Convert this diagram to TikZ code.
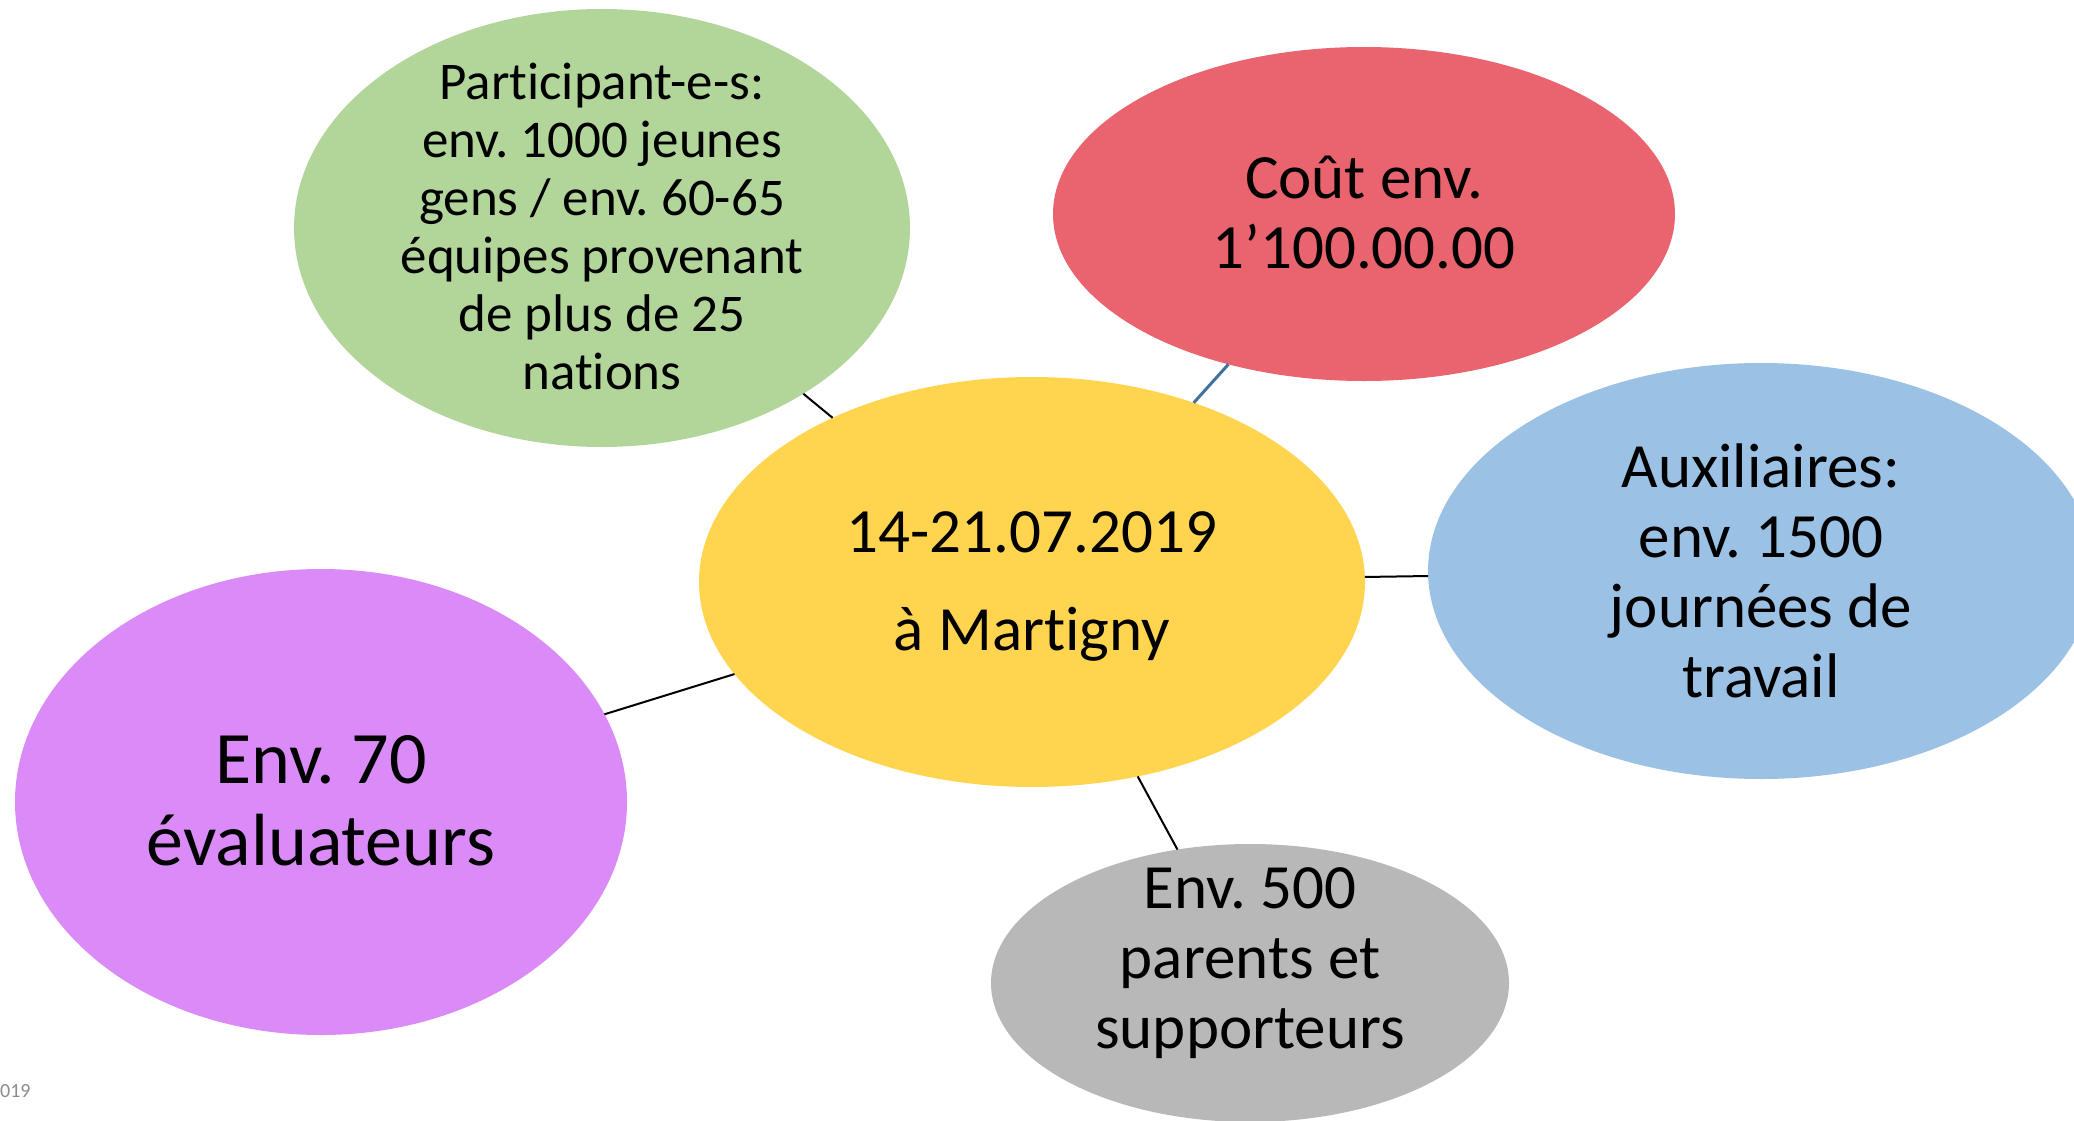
\documentclass[tikz,border=0pt]{standalone}
\usepackage{fontspec}
\setmainfont{Carlito}[Ligatures=NoCommon]
\frenchspacing
\usetikzlibrary{shapes.geometric}
\definecolor{cyellow}{HTML}{FFD44F}
\definecolor{cgreen}{HTML}{B2D69A}
\definecolor{cred}{HTML}{E9646E}
\definecolor{cblue}{HTML}{9BC1E4}
\definecolor{cpurple}{HTML}{DB8BF7}
\definecolor{cgray}{HTML}{B8B8B8}
\definecolor{clink}{HTML}{41719C}
\definecolor{cfoot}{HTML}{8C8C8C}
\begin{document}
\begin{tikzpicture}[x=1pt,y=-1pt,
  bubble/.style={ellipse, draw=none, inner sep=0pt, outer sep=0pt},
  label text/.style={align=center, inner sep=0pt, text=black},
  link/.style={draw=black, line width=2pt},
  bluelink/.style={draw=clink, line width=3pt}]
\useasboundingbox (0,0) rectangle (2074,1121);
% bubbles
\node[bubble, fill=cgreen, minimum width=616pt, minimum height=438pt] (green) at (602,228) {};
\node[bubble, fill=cred, minimum width=622pt, minimum height=334pt] (red) at (1364,214) {};
\node[bubble, fill=cblue, minimum width=666pt, minimum height=416pt] (blue) at (1761,571) {};
\node[bubble, fill=cpurple, minimum width=612pt, minimum height=466pt] (purple) at (321,802) {};
\node[bubble, fill=cgray, minimum width=518pt, minimum height=278pt] (gray) at (1250,983) {};
\node[bubble, fill=cyellow, minimum width=666pt, minimum height=410pt] (yellow) at (1032,582) {};
% texts
\node[label text, font=\fontsize{53}{58}\selectfont] (greentext) at (602,226)
  {Participant-e-s:\\env. 1000 jeunes\\gens / env. 60-65\\équipes provenant\\de plus de 25\\nations};
\node[label text, font=\fontsize{63}{70}\selectfont] (redtext) at (1364,212)
  {Coût env.\\1’100.00.00};
\node[label text, font=\fontsize{63}{70}\selectfont] (bluetext) at (1761,571)
  {Auxiliaires:\\env. 1500\\journées de\\travail};
\node[label text, font=\fontsize{74}{82}\selectfont] (purpletext) at (321,801)
  {Env. 70\\évaluateurs};
\node[label text, font=\fontsize{63}{70}\selectfont] (graytext) at (1250,963)
  {Env. 500\\parents et\\supporteurs};
\node[label text, font=\fontsize{63}{70}\selectfont] (yellowtext) at (1032,586)
  {14-21.07.2019\\[28pt]à Martigny};
\node[anchor=west, inner sep=0pt, text=cfoot, font=\fontsize{20}{24}\selectfont] (foot) at (0,1091) {019};
% connectors
\draw[link] (yellow) -- (green);
\draw[bluelink] (yellow) -- (red);
\draw[link] (yellow) -- (blue);
\draw[link] (yellow) -- (purple);
\draw[link] (yellow) -- (gray);
\end{tikzpicture}
\end{document}
